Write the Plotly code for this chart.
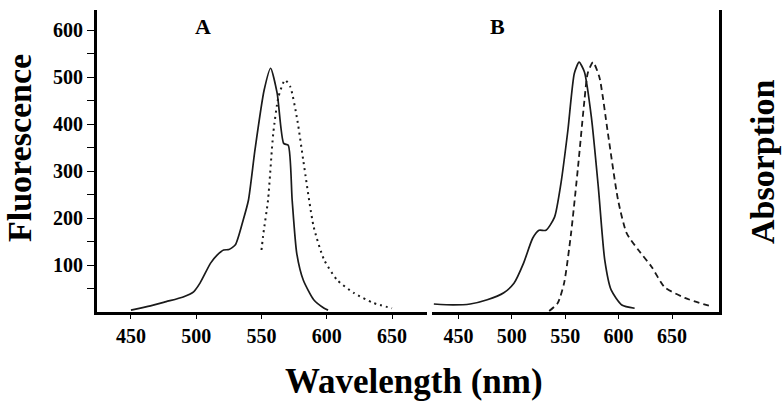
import plotly.graph_objects as go

# panel A (solid = absorption, dotted = fluorescence)
a_abs_x = [450, 465, 477, 490, 498, 503, 511, 516, 521, 525, 530, 536, 540, 545, 552, 557,
           562, 567, 570.5, 573.5, 577, 582, 590, 598, 601]
a_abs_y = [4, 13, 22, 32, 43, 62, 104, 121, 132, 133, 143, 196, 238, 345, 472, 519,
           466, 359, 355, 238, 125, 68, 26, 8, 4]
a_fl_x = [550, 551.5, 555, 559, 563, 568, 572, 577.5, 582, 590, 598, 608, 621, 636, 650]
a_fl_y = [132, 168, 238, 380, 458, 494, 480, 408, 323, 181, 111, 68, 40, 19, 8]

# panel B (solid = absorption, dashed = fluorescence)
b_abs_x = [427, 445, 461, 477, 492.5, 502, 511, 519.5, 525.5, 532, 540, 546, 552.5, 558.5,
           563, 568, 574.5, 581, 587, 593, 603, 615]
b_abs_y = [17, 15, 17, 26, 41, 61, 104, 157, 174, 174, 202, 274, 387, 508,
           532, 511, 415, 266, 111, 47, 15, 8]
b_fl_x = [535, 543, 549, 555.5, 562, 568, 571, 576, 582, 590, 599.5, 607.5, 618.5, 631,
          643, 662, 688]
b_fl_y = [2, 19, 62, 168, 309, 451, 508, 532, 500, 380, 238, 168, 132, 96, 53, 30, 11]

x_ticks = [450, 500, 550, 600, 650]
y_ticks = [100, 200, 300, 400, 500, 600]

SERIF = "Liberation Serif"
INK = "#1a1a1a"

fig = go.Figure()
fig.add_trace(go.Scatter(x=a_abs_x, y=a_abs_y, mode="lines", xaxis="x", yaxis="y",
                         line=dict(color=INK, width=1.7, shape="spline", smoothing=0.6)))
fig.add_trace(go.Scatter(x=a_fl_x, y=a_fl_y, mode="lines", xaxis="x", yaxis="y",
                         line=dict(color=INK, width=2, dash="2px,4px", shape="spline", smoothing=0.6)))
fig.add_trace(go.Scatter(x=b_abs_x, y=b_abs_y, mode="lines", xaxis="x2", yaxis="y2",
                         line=dict(color=INK, width=1.7, shape="spline", smoothing=0.6)))
fig.add_trace(go.Scatter(x=b_fl_x, y=b_fl_y, mode="lines", xaxis="x2", yaxis="y2",
                         line=dict(color=INK, width=1.8, dash="6px,4px", shape="spline", smoothing=0.6)))

tickfont = dict(family=SERIF, size=20, color="black", weight="bold")
xcommon = dict(showline=True, linecolor="black", linewidth=3, ticks="outside", ticklen=4,
               tickcolor="black", tickvals=x_ticks, tickfont=tickfont, showgrid=False,
               zeroline=False, ticklabelstandoff=0)

fig.update_layout(
    width=783, height=408,
    margin=dict(l=97, r=64, t=10, b=96),
    plot_bgcolor="white", paper_bgcolor="white",
    showlegend=False,
    xaxis=dict(domain=[0, 0.531], range=[424, 677], anchor="y", **xcommon),
    xaxis2=dict(domain=[0.539, 1], range=[425.5, 694], anchor="y2", **xcommon),
    yaxis=dict(range=[0, 643], anchor="x", showline=True, linecolor="black", linewidth=3,
               ticks="outside", ticklen=7, tickcolor="black", tickvals=y_ticks,
               tickfont=tickfont, showgrid=False, zeroline=False, ticklabelstandoff=0,
               minor=dict(ticks="outside", ticklen=7, tickcolor="black",
                          tickvals=[50, 150, 250, 350, 450, 550])),
    yaxis2=dict(range=[0, 643], anchor="x2", side="right", showline=True, linecolor="black",
                linewidth=3, showticklabels=False, ticks="", showgrid=False, zeroline=False),
)

fig.add_annotation(text="Fluorescence", x=19, y=148, showarrow=False, textangle=-90,
                   font=dict(family=SERIF, size=34, color="black", weight="bold"))
fig.add_annotation(text="Absorption", x=762, y=162, showarrow=False, textangle=-90,
                   font=dict(family=SERIF, size=34, color="black", weight="bold"))
fig.add_annotation(text="Wavelength (nm)", x=414, y=381, showarrow=False,
                   font=dict(family=SERIF, size=35, color="black", weight="bold"))
fig.add_annotation(text="A", x=203, y=27, showarrow=False,
                   font=dict(family=SERIF, size=22, color="black", weight="bold"))
fig.add_annotation(text="B", x=497, y=27, showarrow=False,
                   font=dict(family=SERIF, size=22, color="black", weight="bold"))

# annotations were placed in page pixels; convert to paper coordinates
for ann in fig.layout.annotations:
    px, py = ann.x, ann.y
    ann.update(xref="paper", yref="paper",
               x=(px - 97) / (783 - 97 - 64), y=1 - (py - 10) / (408 - 10 - 96),
               xanchor="center", yanchor="middle")

# drop the browser's default body margin so the figure sits at the page corner
fig.write_html("out.html", config={"displayModeBar": False},
               post_script="document.body.style.margin='0';")
